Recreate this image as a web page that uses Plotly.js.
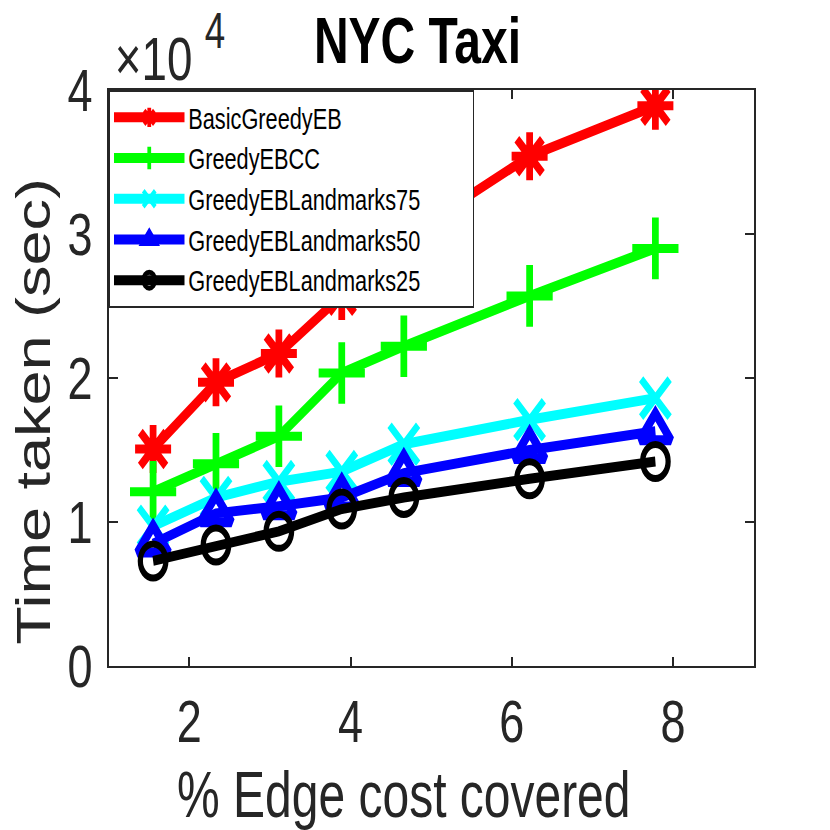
<!DOCTYPE html>
<html>
<head>
<meta charset="utf-8">
<script src="https://cdn.plot.ly/plotly-3.0.1.min.js"></script>
<style>
html, body { margin: 0; padding: 0; overflow: hidden; background: #fff; }
#chart { width: 1107px; height: 830px; transform: scaleX(0.75); transform-origin: 0 0; }
</style>
</head>
<body>
<div id="chart"></div>
<script>
// Data
const edgeCost = [1.55, 2.33, 3.11, 3.89, 4.66, 6.22, 7.78];
const basicGreedyEB = [15070, 19700, 21700, 25700, 29700, 35400, 38900];
const greedyEBCC = [12100, 14050, 15950, 20350, 22200, 25700, 29000];
const landmarks75 = [9700, 11700, 12800, 13500, 15400, 17100, 18600];
const landmarks50 = [8500, 10600, 11100, 11700, 13400, 15000, 16300];
const landmarks25 = [7300, 8400, 9350, 10900, 11700, 13000, 14200];
const seriesNames = ['BasicGreedyEB', 'GreedyEBCC', 'GreedyEBLandmarks75', 'GreedyEBLandmarks50', 'GreedyEBLandmarks25'];
const xTicks = [2, 4, 6, 8];
const yTickVals = [0, 10000, 20000, 30000, 40000];
const yTickText = ['0', '1', '2', '3', '4'];

const styles = [
  {color: '#ff0000', symbol: 'asterisk-open', size: 40, lw: 9},
  {color: '#00ff00', symbol: 'cross-thin-open', size: 44, lw: 9},
  {color: '#00ffff', symbol: 'x-thin-open', size: 38, lw: 8},
  {color: '#0000ff', symbol: 'triangle-up-open', size: 36, lw: 10},
  {color: '#000000', symbol: 'circle-open', size: 34, lw: 7}
];
const values = [basicGreedyEB, greedyEBCC, landmarks75, landmarks50, landmarks25];
const legendPad = '\u00a0'.repeat(8); // invisible right padding inside the legend box

const traces = values.map((v, i) => ({
  x: edgeCost, y: v, name: seriesNames[i] + legendPad, type: 'scatter', mode: 'lines+markers',
  line: {color: styles[i].color, width: 10},
  marker: {symbol: styles[i].symbol, size: styles[i].size, color: styles[i].color,
           line: {color: styles[i].color, width: styles[i].lw}}
}));

const axisColor = '#262626';
const font = 'Liberation Sans, Arial, Helvetica, sans-serif';

const layout = {
  width: 1107, height: 830,
  margin: {l: 145, r: 102, t: 90, b: 164},
  paper_bgcolor: '#fff', plot_bgcolor: '#fff',
  showlegend: true,
  title: {text: '<b>NYC Taxi</b>', font: {family: font, size: 64, color: '#000'},
          x: 0.4786, xref: 'paper', xanchor: 'center', y: 0.951, yref: 'container', yanchor: 'middle'},
  xaxis: {range: [1, 9], tickvals: xTicks, ticks: 'inside', ticklen: 9, tickwidth: 2.5,
          tickcolor: axisColor, showline: true, linecolor: axisColor, linewidth: 2, mirror: 'ticks',
          showgrid: false, zeroline: false, ticklabelstandoff: 2,
          tickfont: {family: font, size: 60, color: axisColor}},
  yaxis: {range: [0, 40000], tickvals: yTickVals, ticktext: yTickText, ticks: 'inside', ticklen: 12,
          tickwidth: 2, tickcolor: axisColor, showline: true, linecolor: axisColor, linewidth: 2.67,
          mirror: 'ticks', showgrid: false, zeroline: false, ticklabelstandoff: 7,
          tickfont: {family: font, size: 60, color: axisColor}},
  legend: {x: 0, y: 1, xref: 'paper', yref: 'paper', xanchor: 'left', yanchor: 'top',
           bgcolor: '#fff', bordercolor: axisColor, borderwidth: 2, itemwidth: 94,
           tracegroupgap: 0, font: {family: font, size: 29, color: '#000'}},
  annotations: [
    {text: '% Edge cost covered', xref: 'paper', yref: 'paper', x: 0.458, y: 0, xanchor: 'center',
     yanchor: 'middle', yshift: -129, showarrow: false, font: {family: font, size: 64, color: axisColor}},
    {text: 'Time taken (sec)', xref: 'paper', yref: 'paper', x: 0, y: 0.4415, xanchor: 'center',
     yanchor: 'middle', xshift: -100, textangle: -90, showarrow: false,
     font: {family: font, size: 63, color: axisColor}},
    {text: '×10', xref: 'paper', yref: 'paper', x: 0, y: 1, xanchor: 'left', yanchor: 'middle',
     xshift: 6, yshift: 31, showarrow: false, font: {family: font, size: 61, color: axisColor}},
    {text: '4', xref: 'paper', yref: 'paper', x: 0, y: 1, xanchor: 'left', yanchor: 'middle',
     xshift: 126, yshift: 59, showarrow: false, font: {family: font, size: 49, color: axisColor}}
  ]
};

Plotly.newPlot('chart', traces, layout, {displayModeBar: false, staticPlot: true});
</script>
</body>
</html>
